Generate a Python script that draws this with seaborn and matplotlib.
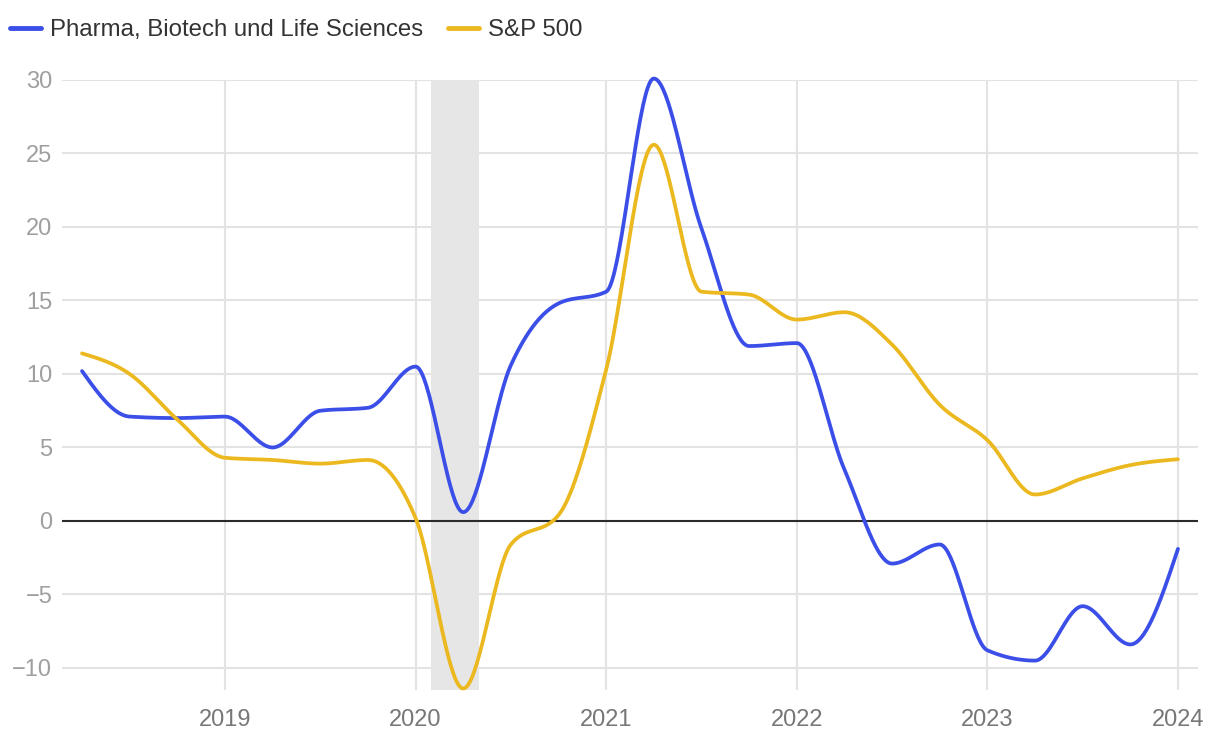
import numpy as np
import pandas as pd
import matplotlib
matplotlib.use("Agg")
import matplotlib.pyplot as plt
import seaborn as sns
from matplotlib.lines import Line2D

# ---- data (quarterly) ----
quarters = [2018.25, 2018.5, 2018.75, 2019.0, 2019.25, 2019.5, 2019.75,
            2020.0, 2020.25, 2020.5, 2020.75, 2021.0, 2021.25, 2021.5,
            2021.75, 2022.0, 2022.25, 2022.5, 2022.75, 2023.0, 2023.25,
            2023.5, 2023.75, 2024.0]
pharma = [10.2, 7.1, 7.0, 7.1, 5.0, 7.5, 7.7, 10.5, 0.6, 10.6, 14.8, 15.6,
          30.1, 19.9, 11.9, 12.1, 3.5, -2.9, -1.6, -8.8, -9.5, -5.8, -8.4, -1.9]
sp500 = [11.4, 10.0, 6.9, 4.3, 4.15, 3.9, 4.15, 0.2, -11.4, -1.6, 0.4, 10.3,
         25.6, 15.6, 15.4, 13.7, 14.2, 12.0, 7.9, 5.5, 1.8, 2.9, 3.8, 4.2]
series_names = ["Pharma, Biotech und Life Sciences", "S&P 500"]
recession = (2020.083, 2020.333)
year_ticks = [2019, 2020, 2021, 2022, 2023, 2024]
y_ticks = [-10, -5, 0, 5, 10, 15, 20, 25, 30]

colors = {series_names[0]: "#3b4fe8", series_names[1]: "#ebb91f"}


def monotone_curve(x, y, n=40):
    """Render a monotone cubic (d3 curveMonotoneX style) through the points."""
    x = np.asarray(x, float)
    y = np.asarray(y, float)
    h = np.diff(x)
    s = np.diff(y) / h
    m = np.zeros_like(y)
    for i in range(1, len(y) - 1):
        if s[i - 1] * s[i] <= 0:
            m[i] = 0.0
        else:
            p = (s[i - 1] * h[i] + s[i] * h[i - 1]) / (h[i - 1] + h[i])
            m[i] = (np.sign(s[i - 1]) + np.sign(s[i])) * min(abs(s[i - 1]), abs(s[i]), 0.5 * abs(p))
    m[0] = (3 * s[0] - m[1]) / 2
    m[-1] = (3 * s[-1] - m[-2]) / 2
    xs, ys = [], []
    for i in range(len(x) - 1):
        t = np.linspace(0, 1, n, endpoint=(i == len(x) - 2))
        h00 = 2 * t**3 - 3 * t**2 + 1
        h10 = t**3 - 2 * t**2 + t
        h01 = -2 * t**3 + 3 * t**2
        h11 = t**3 - t**2
        xs.append(x[i] + t * h[i])
        ys.append(h00 * y[i] + h10 * h[i] * m[i] + h01 * y[i + 1] + h11 * h[i] * m[i + 1])
    return np.concatenate(xs), np.concatenate(ys)


frames = []
for name, vals in zip(series_names, [pharma, sp500]):
    cx, cy = monotone_curve(quarters, vals)
    frames.append(pd.DataFrame({"x": cx, "y": cy, "series": name}))
df = pd.concat(frames, ignore_index=True)

sns.set_theme(style="white")
plt.rcParams["font.family"] = ["Liberation Sans", "DejaVu Sans"]

fig = plt.figure(figsize=(12.2, 7.36), dpi=100)
ax = fig.add_axes([62 / 1220, 46 / 736, 1136 / 1220, 610 / 736])

x0, x1 = 2018.25 - 20 / 190.4, 2024 + 20 / 190.4
ax.set_xlim(x0, x1)
ax.set_ylim(-11.5, 30)

# grid
for yv in y_ticks:
    if yv != 0:
        ax.axhline(yv, color="#e3e3e3", lw=1.5, zorder=0)
for xv in year_ticks:
    ax.axvline(xv, color="#e3e3e3", lw=1.5, zorder=0)

ax.axvspan(*recession, color="#e6e6e6", lw=0, zorder=1)
ax.axhline(0, color="#2b2b2b", lw=1.5, zorder=2)

sns.lineplot(data=df, x="x", y="y", hue="series", palette=colors,
             linewidth=2.7, ax=ax, legend=False, sort=False, zorder=3,
             estimator=None)
for ln in ax.lines[-2:]:
    ln.set_clip_on(False)
    ln.set_solid_capstyle("round")

for sp in ax.spines.values():
    sp.set_visible(False)

ax.set_xticks(year_ticks)
ax.set_xticklabels([str(v) for v in year_ticks], color="#777777", fontsize=17)
ax.set_yticks(y_ticks)
ax.set_yticklabels([("\u2212" + str(-v)) if v < 0 else str(v) for v in y_ticks],
                   color="#9f9f9f", fontsize=17)
ax.tick_params(axis="x", length=0, pad=14)
ax.tick_params(axis="y", length=0, pad=7)
ax.set_xlabel("")
ax.set_ylabel("")

handles = [Line2D([0], [0], color=colors[n], lw=3.5, solid_capstyle="round") for n in series_names]
fig.legend(handles, series_names, loc="upper left",
           bbox_to_anchor=(10 / 1220, 1 - 19 / 736),
           ncol=2, frameon=False, fontsize=17.3, handlelength=1.3,
           handletextpad=0.35, columnspacing=1.05, borderaxespad=0,
           borderpad=0, labelcolor="#333333")

fig.savefig("out.png", dpi=100)
